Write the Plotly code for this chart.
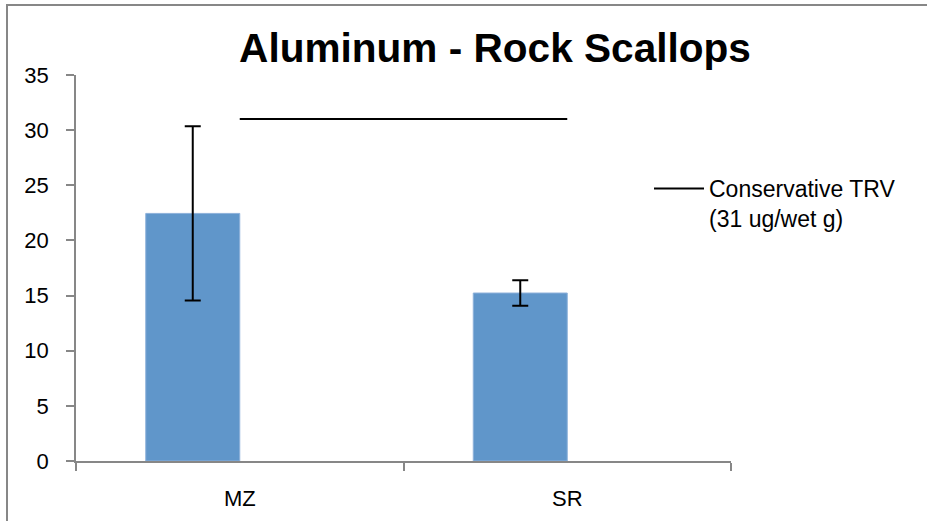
import plotly.graph_objects as go

categories = ["MZ", "SR"]
means = [22.45, 15.23]
errors = [7.9, 1.16]
trv_value = 31
trv_label = "Conservative TRV<br>(31 ug/wet g)"
title_text = "Aluminum - Rock Scallops"
y_ticks = [0, 5, 10, 15, 20, 25, 30, 35]

pos = list(range(len(categories)))
bar_w = 0.287

W, H = 927, 521
L, R, T, B = 76, 196, 75, 60
pw, ph = W - L - R, H - T - B

fig = go.Figure()
fig.add_trace(go.Bar(
    x=pos, y=means, width=bar_w, offset=-bar_w,
    marker=dict(color="#6096CA", line=dict(color="#8DB1DA", width=1)),
    error_y=dict(type="data", array=errors, visible=True, color="black",
                 thickness=2, width=8),
    showlegend=False,
))
fig.add_trace(go.Scatter(
    x=[pos[0], pos[-1]], y=[trv_value, trv_value], mode="lines",
    line=dict(color="black", width=2), name=trv_label, showlegend=True,
))

gray = "#878787"
fig.update_layout(
    width=W, height=H,
    margin=dict(l=L, r=R, t=T, b=B, pad=0, autoexpand=False),
    paper_bgcolor="white", plot_bgcolor="white",
    font=dict(family="Liberation Sans, Arial, sans-serif", color="black", size=22),
    title=dict(text="<b>" + title_text + "</b>", x=495 / W, xanchor="center",
               y=1 - 48 / H, yanchor="middle", font=dict(size=40.6, color="black")),
    xaxis=dict(range=[-0.5, len(categories) - 0.5], tickvals=pos, ticktext=categories,
               ticks="", showgrid=False, zeroline=False, automargin=False,
               showline=True, linecolor=gray, linewidth=1.5,
               ticklabelstandoff=17,
               minor=dict(tickmode="linear", tick0=-0.5, dtick=1, ticks="outside",
                          ticklen=8, tickcolor=gray, tickwidth=1.5, showgrid=False),
               fixedrange=True),
    yaxis=dict(range=[0, 35], tickvals=y_ticks, ticks="outside", ticklen=8,
               tickcolor=gray, tickwidth=1.5, showgrid=False, zeroline=False,
               showline=True, linecolor=gray, linewidth=1.5, automargin=False,
               ticklabelstandoff=13, fixedrange=True),
    legend=dict(x=(649 - L) / pw, y=(H - B - 167) / ph, xanchor="left", yanchor="top",
                valign="top", bgcolor="rgba(0,0,0,0)", font=dict(size=23),
                itemwidth=50),
    shapes=[dict(type="rect", xref="paper", yref="paper",
                 x0=(7 - L) / pw, x1=(1000 - L) / pw,
                 y0=(H - B - 600) / ph, y1=(H - B - 5) / ph,
                 line=dict(color=gray, width=2), fillcolor="rgba(0,0,0,0)",
                 layer="below")],
)

fig.write_html("out.html", config={"displayModeBar": False},
               post_script="document.body.style.margin='0';"
                           "document.documentElement.style.overflow='hidden';"
                           "document.body.style.overflow='hidden';")
